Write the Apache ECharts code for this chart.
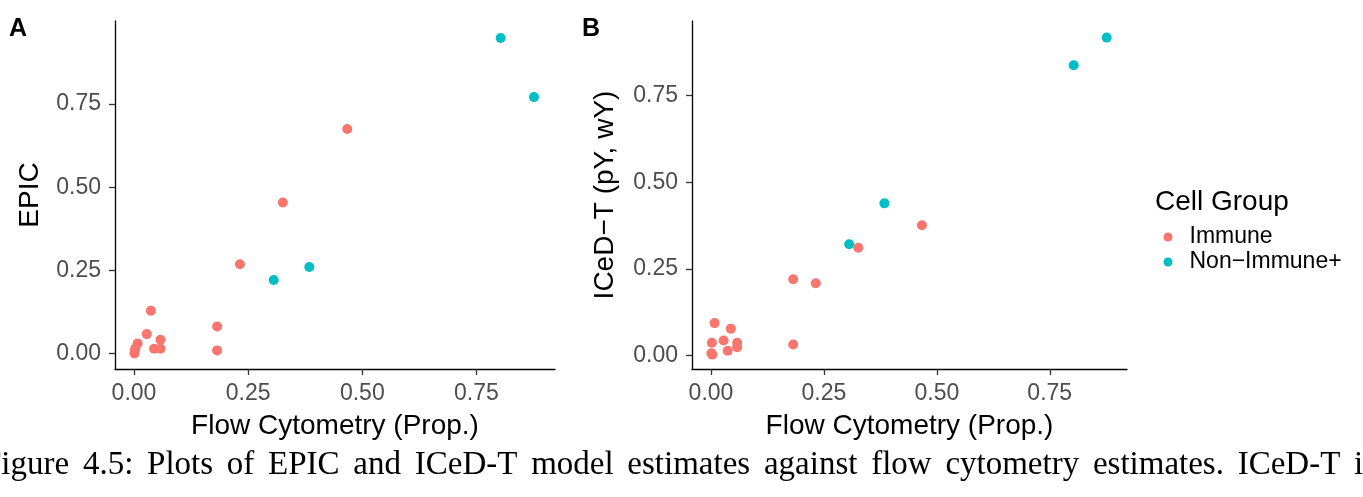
<!DOCTYPE html>
<html>
<head>
<meta charset="utf-8">
<script src="https://cdn.jsdelivr.net/npm/echarts@6/dist/echarts.min.js"></script>
<style>
  html, body { margin: 0; padding: 0; background: #fff; }
  #main { width: 1363px; height: 497px; }
</style>
</head>
<body>
<div id="main"></div>
<script>
// flow cytometry proportions (same samples in both panels)
var flowImmune = [0.467, 0.326, 0.232, 0.182, 0.182, 0.058, 0.058, 0.044, 0.037, 0.028, 0.008, 0.002, 0.001, 0.003];
var flowNonImmune = [0.803, 0.876, 0.306, 0.384];

// panel A: EPIC estimates
var epicImmune = [0.675, 0.454, 0.268, 0.081, 0.009, 0.041, 0.014, 0.014, 0.128, 0.058, 0.030, 0.008, 0.000, 0.015];
var epicNonImmune = [0.949, 0.771, 0.221, 0.260];

// panel B: ICeD-T estimates
var icedtImmune = [0.376, 0.311, 0.208, 0.220, 0.031, 0.036, 0.023, 0.077, 0.013, 0.043, 0.093, 0.036, 0.006, 0.002];
var icedtNonImmune = [0.838, 0.918, 0.321, 0.439];

var tickValues = [0, 0.25, 0.5, 0.75];
var groupNames = ['Immune', 'Non\u2212Immune+'];
var groupColors = ['#F8766D', '#00BFC4'];
var captionText = 'Figure 4.5: Plots of EPIC and ICeD-T model estimates against flow cytometry estimates. ICeD-T is';

// zip x and y arrays into [x, y] pairs
function pairs(xs, ys) {
    var out = [];
    for (var i = 0; i < xs.length; i++) {
        out.push([xs[i], ys[i]]);
    }
    return out;
}

// justified caption line: one text element per word, spaces stretched a bit
function captionWords(text, x0, top, extra) {
    var font = '33px "Liberation Serif"';
    var ctx = document.createElement('canvas').getContext('2d');
    ctx.font = font;
    var space = ctx.measureText(' ').width + extra;
    var words = text.split(' ');
    var out = [];
    var x = x0;
    for (var i = 0; i < words.length; i++) {
        out.push({ type: 'text', left: x, top: top,
            style: { text: words[i], fontFamily: 'Liberation Serif', fontSize: 33, fill: '#000' } });
        x += ctx.measureText(words[i]).width + space;
    }
    return out;
}

function makeXAxis(idx, min, max) {
    return {
        type: 'value', gridIndex: idx, min: min, max: max,
        name: 'Flow Cytometry (Prop.)', nameLocation: 'middle', nameGap: 43,
        nameTextStyle: { fontFamily: 'Liberation Sans', fontSize: 28, color: '#000' },
        splitLine: { show: false },
        axisLine: { onZero: false, lineStyle: { color: '#000', width: 1.3 } },
        axisTick: { customValues: tickValues, length: 6, lineStyle: { color: '#333', width: 1.3 } },
        axisLabel: {
            customValues: tickValues, margin: 13,
            fontFamily: 'Liberation Sans', fontSize: 23, color: '#4D4D4D',
            formatter: function (v) { return v.toFixed(2); }
        }
    };
}

function makeYAxis(idx, min, max, title, gap) {
    return {
        type: 'value', gridIndex: idx, min: min, max: max,
        name: title, nameLocation: 'middle', nameGap: gap,
        nameTextStyle: { fontFamily: 'Liberation Sans', fontSize: 28, color: '#000' },
        splitLine: { show: false },
        axisLine: { onZero: false, lineStyle: { color: '#000', width: 1.3 } },
        axisTick: { customValues: tickValues, length: 6, lineStyle: { color: '#333', width: 1.3 } },
        axisLabel: {
            customValues: tickValues, margin: 14,
            fontFamily: 'Liberation Sans', fontSize: 23, color: '#4D4D4D',
            formatter: function (v) { return v.toFixed(2); }
        }
    };
}

function makeSeries(name, idx, data, color) {
    return {
        name: name, type: 'scatter', xAxisIndex: idx, yAxisIndex: idx,
        data: data, symbolSize: 10, itemStyle: { color: color, opacity: 1 },
        emphasis: { disabled: true }, animation: false
    };
}

var chart = echarts.init(document.getElementById('main'));
var option = {
    backgroundColor: '#fff',
    animation: false,
    grid: [
        { left: 115, top: 21, width: 440, height: 348 },
        { left: 692, top: 21, width: 435, height: 348 }
    ],
    xAxis: [makeXAxis(0, -0.0416, 0.922), makeXAxis(1, -0.042, 0.921)],
    yAxis: [makeYAxis(0, -0.047, 1.0, 'EPIC', 71), makeYAxis(1, -0.0396, 0.966, 'ICeD\u2212T (pY, wY)', 73)],
    legend: {
        data: groupNames, orient: 'vertical', left: 1163.5, top: 224.5, padding: 0,
        icon: 'circle', itemWidth: 9, itemHeight: 9, itemGap: 0,
        textStyle: { fontFamily: 'Liberation Sans', fontSize: 23, color: '#000', lineHeight: 25, padding: [0, 0, 0, 12] }
    },
    series: [
        makeSeries(groupNames[0], 0, pairs(flowImmune, epicImmune), groupColors[0]),
        makeSeries(groupNames[1], 0, pairs(flowNonImmune, epicNonImmune), groupColors[1]),
        makeSeries(groupNames[0], 1, pairs(flowImmune, icedtImmune), groupColors[0]),
        makeSeries(groupNames[1], 1, pairs(flowNonImmune, icedtNonImmune), groupColors[1])
    ],
    graphic: [
        { type: 'text', left: 9, top: 17, style: { text: 'A', fontFamily: 'Liberation Sans', fontWeight: 'bold', fontSize: 25, fill: '#000' } },
        { type: 'text', left: 582, top: 17, style: { text: 'B', fontFamily: 'Liberation Sans', fontWeight: 'bold', fontSize: 25, fill: '#000' } },
        { type: 'text', left: 1155, top: 188, style: { text: 'Cell Group', fontFamily: 'Liberation Sans', fontSize: 28, fill: '#000' } }
    ].concat(captionWords(captionText, -17, 449, 5.5))
};
chart.setOption(option);
</script>
</body>
</html>
